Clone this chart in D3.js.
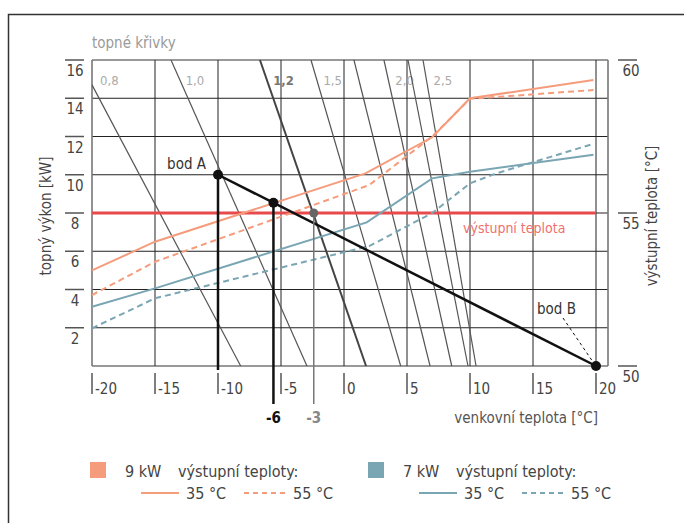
<!DOCTYPE html>
<html>
<head>
<meta charset="utf-8">
<script src="https://cdn.jsdelivr.net/npm/d3@7"></script>
<style>
  body { margin: 0; background: #fff; }
  svg text { font-family: "Liberation Sans Narrow", "DejaVu Sans Condensed", sans-serif; }
</style>
</head>
<body>
<div id="chart"></div>
<script>
"use strict";

// values
var tempTicks = [-20, -15, -10, -5, 0, 5, 10, 15, 20];
var kwTicks = [2, 4, 6, 8, 10, 12, 14, 16];
var flowTicks = [50, 55, 60];

var hp9_35 = [[-20, 5.0], [-15, 6.5], [1.7, 10.07], [7, 11.96], [10, 14.0], [19.8, 14.95]];
var hp9_55 = [[-20, 3.71], [-15, 5.45], [2, 9.46], [7, 12.0], [10, 13.97], [19.8, 14.43]];
var hp7_35 = [[-20, 3.1], [-15, 4.06], [1.8, 7.51], [7, 9.81], [10, 10.16], [19.8, 11.05]];
var hp7_55 = [[-20, 1.97], [-15, 3.54], [2, 6.27], [7, 8.0], [10, 9.55], [12, 10.05], [19.8, 11.62]];

var curveLabels = ["0,8", "1,0", "1,2", "1,5", "", "2,0", "", "2,5"];
var curveTops = [[-20, 14.7], [-13.73, 16], [-6.67, 16], [-2.62, 16], [0.79, 16], [3.17, 16], [5.08, 16], [6.27, 16]];
var curveBottoms = [-8.2, -2.94, 1.75, 4.5, 6.83, 8.55, 9.84, 10.48];

var bodA = [-10, 10];
var bodB = [20, 0];
// where the drop lines sit in the picture, and what they are labelled
var markTemps = [-5.6, -2.4];
var markLabels = ["-6", "-3"];
var flowLevel = 55;

var orange = "#f59c7c", blue = "#7aa6b4", red = "#e8494b";

var svg = d3.select("#chart").append("svg").attr("width", 684).attr("height", 523);

var x = d3.scaleLinear().domain([-20, 20]).range([92, 596]);
var y = d3.scaleLinear().domain([0, 16]).range([366, 60]);
var yR = d3.scaleLinear().domain([50, 60]).range([366, 60]);
var plotRight = 608;

// outer frame
svg.append("path").attr("d", "M8.5,523 V14.5 H684")
    .attr("fill", "none").attr("stroke", "#333").attr("stroke-width", 1.5);

svg.append("text").attr("x", 92).attr("y", 48).attr("font-size", 15)
    .attr("fill", "#9a9a9a").text("topné křivky");

// grid
var grid = svg.append("g");
grid.selectAll("line.h").data(d3.range(0, 17, 2)).enter().append("line")
    .attr("x1", x(-20)).attr("x2", plotRight)
    .attr("y1", d => y(d)).attr("y2", d => y(d))
    .attr("stroke", d => (d === 0 || d === 16) ? "#777" : "#222")
    .attr("stroke-width", d => (d === 0 || d === 16) ? 1.6 : 1);
grid.selectAll("line.v").data(tempTicks).enter().append("line")
    .attr("x1", d => x(d)).attr("x2", d => x(d))
    .attr("y1", y(16)).attr("y2", y(0))
    .attr("stroke", d => d === -20 ? "#777" : "#222")
    .attr("stroke-width", d => d === -20 ? 1.6 : 1);
grid.append("line").attr("x1", plotRight).attr("x2", plotRight)
    .attr("y1", y(16)).attr("y2", y(0)).attr("stroke", "#777").attr("stroke-width", 1.6);

// heating curves
var curves = svg.append("g");
curveTops.forEach(function (t, i) {
    var bold = curveLabels[i] === "1,2";
    curves.append("line")
        .attr("x1", x(t[0])).attr("y1", y(t[1]))
        .attr("x2", x(curveBottoms[i])).attr("y2", y(0))
        .attr("stroke", bold ? "#444" : "#555")
        .attr("stroke-width", bold ? 2 : 1.2);
    if (curveLabels[i]) {
        var yl = 75;
        var frac = (yl - y(t[1])) / (y(0) - y(t[1]));
        var xl = frac < 0 ? x(t[0]) : x(t[0]) + frac * (x(curveBottoms[i]) - x(t[0]));
        curves.append("text")
            .attr("x", xl + 8).attr("y", 85)
            .attr("font-size", 13)
            .attr("font-weight", bold ? "bold" : "normal")
            .attr("fill", bold ? "#777" : "#aaa")
            .text(curveLabels[i]);
    }
});

// output temperature line
svg.append("line").attr("x1", x(-20)).attr("x2", x(20))
    .attr("y1", yR(flowLevel)).attr("y2", yR(flowLevel))
    .attr("stroke", red).attr("stroke-width", 3);
svg.append("text").attr("x", 463).attr("y", 233).attr("font-size", 14)
    .attr("fill", "#f07070").text("výstupní teplota");

// heat pump power lines
var line = d3.line().x(d => x(d[0])).y(d => y(d[1]));
[[hp9_35, orange, null], [hp9_55, orange, "6,4"], [hp7_35, blue, null], [hp7_55, blue, "6,4"]]
    .forEach(function (s) {
        svg.append("path").datum(s[0]).attr("d", line)
            .attr("fill", "none").attr("stroke", s[1]).attr("stroke-width", 2)
            .attr("stroke-dasharray", s[2]);
    });

// building demand line
var demand = d3.scaleLinear().domain([bodA[0], bodB[0]]).range([bodA[1], bodB[1]]);
svg.append("line").attr("x1", x(bodA[0])).attr("y1", y(bodA[1]))
    .attr("x2", x(bodB[0])).attr("y2", y(bodB[1]))
    .attr("stroke", "#111").attr("stroke-width", 2.5);

svg.append("line").attr("x1", x(bodA[0])).attr("x2", x(bodA[0]))
    .attr("y1", y(bodA[1])).attr("y2", 370)
    .attr("stroke", "#111").attr("stroke-width", 2.5);
svg.append("line").attr("x1", x(markTemps[0])).attr("x2", x(markTemps[0]))
    .attr("y1", y(demand(markTemps[0]))).attr("y2", 404)
    .attr("stroke", "#111").attr("stroke-width", 2.5);
svg.append("line").attr("x1", x(markTemps[1])).attr("x2", x(markTemps[1]))
    .attr("y1", yR(flowLevel)).attr("y2", 404)
    .attr("stroke", "#777").attr("stroke-width", 1.5);

svg.append("circle").attr("cx", x(bodA[0])).attr("cy", y(bodA[1])).attr("r", 5).attr("fill", "#111");
svg.append("circle").attr("cx", x(markTemps[0])).attr("cy", y(demand(markTemps[0]))).attr("r", 5).attr("fill", "#111");
svg.append("circle").attr("cx", x(bodB[0])).attr("cy", y(bodB[1])).attr("r", 5).attr("fill", "#111");
svg.append("circle").attr("cx", x(markTemps[1])).attr("cy", yR(flowLevel)).attr("r", 4.5).attr("fill", "#666");

svg.append("text").attr("x", 206).attr("y", 169).attr("text-anchor", "end")
    .attr("font-size", 15).attr("fill", "#333").text("bod A");
svg.append("text").attr("x", 537).attr("y", 314)
    .attr("font-size", 15).attr("fill", "#333").text("bod B");
svg.append("line").attr("x1", 563).attr("y1", 318).attr("x2", x(bodB[0]) - 3).attr("y2", y(bodB[1]) - 4)
    .attr("stroke", "#111").attr("stroke-width", 1).attr("stroke-dasharray", "3,3");

// left axis
var left = svg.append("g");
left.selectAll("line").data(kwTicks).enter().append("line")
    .attr("x1", 65).attr("x2", 84).attr("y1", d => y(d)).attr("y2", d => y(d))
    .attr("stroke", "#555").attr("stroke-width", 1.5);
left.selectAll("text").data(kwTicks).enter().append("text")
    .attr("x", 75).attr("y", d => y(d) + 16).attr("text-anchor", "middle")
    .attr("font-size", 15).attr("fill", "#444").text(d => d);
svg.append("text").attr("transform", "translate(51,216) rotate(-90)")
    .attr("text-anchor", "middle").attr("font-size", 15).attr("fill", "#444")
    .text("topný výkon [kW]");

// right axis
var right = svg.append("g");
right.selectAll("line").data(flowTicks).enter().append("line")
    .attr("x1", 618).attr("x2", 637).attr("y1", d => yR(d)).attr("y2", d => yR(d))
    .attr("stroke", "#555").attr("stroke-width", 1.5);
right.selectAll("text").data(flowTicks).enter().append("text")
    .attr("x", 631).attr("y", d => yR(d) + 16).attr("text-anchor", "middle")
    .attr("font-size", 15).attr("fill", "#444").text(d => d);
svg.append("text").attr("transform", "translate(657,216) rotate(-90)")
    .attr("text-anchor", "middle").attr("font-size", 15).attr("fill", "#444")
    .text("výstupní teplota [°C]");

// bottom axis
var bottom = svg.append("g");
bottom.selectAll("line").data(tempTicks).enter().append("line")
    .attr("x1", d => x(d)).attr("x2", d => x(d)).attr("y1", 373).attr("y2", 394)
    .attr("stroke", "#555").attr("stroke-width", 1.5);
bottom.selectAll("text").data(tempTicks).enter().append("text")
    .attr("x", d => x(d) + 3).attr("y", 394)
    .attr("font-size", 15).attr("fill", "#444").text(d => d);

svg.append("text").attr("x", x(markTemps[0])).attr("y", 423).attr("text-anchor", "middle")
    .attr("font-size", 15).attr("font-weight", "bold").attr("fill", "#111").text(markLabels[0]);
svg.append("text").attr("x", x(markTemps[1])).attr("y", 423).attr("text-anchor", "middle")
    .attr("font-size", 15).attr("font-weight", "bold").attr("fill", "#888").text(markLabels[1]);
svg.append("text").attr("x", 598).attr("y", 423).attr("text-anchor", "end")
    .attr("font-size", 15).attr("fill", "#555").text("venkovní teplota [°C]");

// legend
var legendGroups = [
    { power: "9 kW", color: orange, x: 90 },
    { power: "7 kW", color: blue, x: 368 }
];
legendGroups.forEach(function (g) {
    var lg = svg.append("g").attr("transform", "translate(" + g.x + ",0)");
    lg.append("rect").attr("x", 0).attr("y", 462).attr("width", 16).attr("height", 16).attr("fill", g.color);
    lg.append("text").attr("x", 35).attr("y", 477).attr("font-size", 16).attr("fill", "#444").text(g.power);
    lg.append("text").attr("x", 88).attr("y", 477).attr("font-size", 16).attr("fill", "#444").text("výstupní teploty:");
    lg.append("line").attr("x1", 51).attr("x2", 89).attr("y1", 493).attr("y2", 493)
        .attr("stroke", g.color).attr("stroke-width", 2);
    lg.append("text").attr("x", 96).attr("y", 499).attr("font-size", 16).attr("fill", "#444").text("35 °C");
    lg.append("line").attr("x1", 154).attr("x2", 196).attr("y1", 493).attr("y2", 493)
        .attr("stroke", g.color).attr("stroke-width", 2).attr("stroke-dasharray", "5,4");
    lg.append("text").attr("x", 203).attr("y", 499).attr("font-size", 16).attr("fill", "#444").text("55 °C");
});
</script>
</body>
</html>
